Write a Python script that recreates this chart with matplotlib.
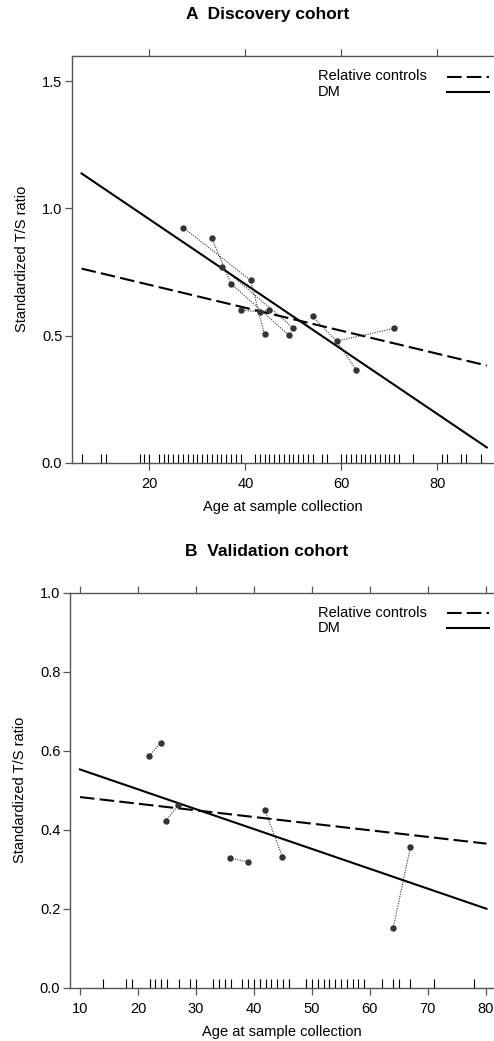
import numpy as np
import matplotlib
matplotlib.use("Agg")
import matplotlib.pyplot as plt

plt.rcParams['font.family'] = ['Liberation Sans', 'DejaVu Sans']

# ---- panel A : discovery cohort ----
a_rug = [6, 10, 11, 18, 19, 20, 22, 23, 24, 25, 26, 27, 28, 29, 30, 31, 32, 33,
         34, 35, 36, 37, 38, 39, 42, 43, 44, 45, 46, 47, 48, 49, 50, 51, 52, 53,
         54, 56, 57, 60, 61, 62, 63, 64, 65, 66, 67, 68, 69, 70, 71, 72, 75, 81,
         82, 85, 86, 89]
a_fit_x = [5.9, 90.3]
a_ctrl_y = [0.763, 0.382]
a_dm_y = [1.137, 0.06]
a_pt_x = [27.1, 33.0, 35.1, 37.0, 41.1, 39.0, 43.1, 45.0, 44.0, 49.1, 50.0, 54.0, 59.0, 71.0, 63.1]
a_pt_y = [0.924, 0.884, 0.770, 0.704, 0.717, 0.600, 0.593, 0.600, 0.504, 0.501, 0.529, 0.575, 0.478, 0.528, 0.365]
a_links = [(0, 4), (4, 8), (1, 3), (3, 9), (2, 10), (5, 6), (6, 7), (11, 12), (12, 14), (12, 13)]

# ---- panel B : validation cohort ----
b_rug = [14, 18, 19, 22, 22, 23, 24, 25, 27, 29, 30, 33, 34, 35, 36, 38, 39, 40,
         41, 41, 42, 43, 44, 45, 46, 46, 49, 49, 50, 51, 52, 53, 54, 55, 56, 57,
         58, 59, 62, 64, 65, 67, 71, 78]
b_fit_x = [10.0, 80.1]
b_ctrl_y = [0.483, 0.365]
b_dm_y = [0.553, 0.200]
b_pt_x = [21.9, 23.9, 24.8, 26.9, 35.9, 38.9, 41.9, 44.9, 64.0, 67.0]
b_pt_y = [0.587, 0.620, 0.422, 0.462, 0.328, 0.319, 0.450, 0.332, 0.151, 0.357]
b_links = [(0, 1), (2, 3), (4, 5), (6, 7), (8, 9)]

legend_labels = ['Relative controls', 'DM']

W, H = 494, 1041
fig = plt.figure(figsize=(W / 100, H / 100), dpi=100)

spine_col = '#555555'
fs = 10.5


def panel(rect, xlim, ylim, xticks, yticks, ytl, rug, fx, cy, dy, px, py, links, title, title_xy, leg_y):
    ax = fig.add_axes(rect)
    ax.set_xlim(*xlim)
    ax.set_ylim(*ylim)
    for s in ['left', 'top', 'bottom']:
        ax.spines[s].set_color(spine_col)
        ax.spines[s].set_linewidth(1.0)
    ax.spines['right'].set_visible(False)
    ax.set_xticks(xticks)
    ax.set_yticks(yticks)
    ax.set_yticklabels(ytl)
    ax.tick_params(axis='both', direction='out', length=5, width=0.9, color=spine_col,
                   labelsize=fs, pad=2)
    ax.tick_params(axis='x', top=True, labeltop=False, pad=5)
    ax.set_xlabel('Age at sample collection', fontsize=fs, labelpad=7)
    ax.set_ylabel('Standardized T/S ratio', fontsize=fs, labelpad=9)

    # rug along the bottom
    ax.vlines(rug, 0, 0.022, transform=ax.get_xaxis_transform(), color='black', lw=0.8)

    # dotted links between related points
    for i, j in links:
        ax.plot([px[i], px[j]], [py[i], py[j]], ls=(0, (1, 1.2)), color='#333333', lw=0.8)
    ax.plot(px, py, 'o', ms=3.6, color='#333333', ls='none', zorder=4)

    ax.plot(fx, cy, color='black', lw=1.5, dashes=(7, 2.5))
    ax.plot(fx, dy, color='black', lw=1.5)

    # key, drawn by hand: text left aligned, sample lines on the right
    styles = [dict(dashes=(7, 2.5)), dict()]
    for k, lab in enumerate(legend_labels):
        yk = 1 - (leg_y + 15 * k) / H
        fig.text(318 / W, yk, lab, fontsize=fs, ha='left', va='center')
        fig.add_artist(plt.Line2D([447 / W, 489 / W], [yk, yk], color='black', lw=1.5,
                                  transform=fig.transFigure, **styles[k]))

    fig.text(title_xy[0], title_xy[1], title, fontsize=12.5, fontweight='bold',
             ha='center', va='center')
    return ax


panel([72 / W, 578.3 / H, 1 - 72 / W, 407 / H], (3.9, 91.8), (0, 1.6),
      [20, 40, 60, 80], [0, 0.5, 1.0, 1.5], ['0.0', '0.5', '1.0', '1.5'],
      a_rug, a_fit_x, a_ctrl_y, a_dm_y, a_pt_x, a_pt_y, a_links,
      'A  Discovery cohort', (268 / W, 1 - 15 / H), 76.5)

panel([70 / W, 53.3 / H, 1 - 70 / W, 394.7 / H], (8.28, 81.4), (0, 1.0),
      [10, 20, 30, 40, 50, 60, 70, 80], [0, 0.2, 0.4, 0.6, 0.8, 1.0],
      ['0.0', '0.2', '0.4', '0.6', '0.8', '1.0'],
      b_rug, b_fit_x, b_ctrl_y, b_dm_y, b_pt_x, b_pt_y, b_links,
      'B  Validation cohort', (267 / W, 1 - 552 / H), 612.7)

fig.savefig('out.png', dpi=100)
